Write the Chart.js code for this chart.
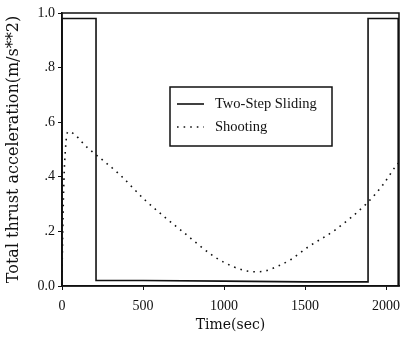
<!DOCTYPE html>
<html lang="en">
<head>
  <meta charset="UTF-8">
  <title>Total thrust acceleration</title>
  <script src="https://cdn.jsdelivr.net/npm/chart.js"></script>
  <style>
    body { margin: 0; padding: 0; background: #fff; }
    canvas { display: block; }
  </style>
</head>
<body>
  <canvas id="thrustChart" width="401" height="349"></canvas>
  <script>
    // data
    const slidingTime = [0, 0, 210, 210, 500, 1000, 1500, 1889, 1889, 2075, 2075];
    const slidingAccel = [0, 0.98, 0.98, 0.02, 0.02, 0.018, 0.015, 0.015, 0.98, 0.98, 0];
    const shootingTime = [0, 10, 25, 40, 160, 358, 512, 747, 944, 1060, 1142, 1200, 1253, 1330, 1407, 1519, 1685, 1883, 1980, 2056, 2075];
    const shootingAccel = [0.05, 0.35, 0.53, 0.565, 0.505, 0.407, 0.315, 0.198, 0.106, 0.07, 0.055, 0.052, 0.055, 0.072, 0.095, 0.143, 0.205, 0.304, 0.37, 0.436, 0.45];
    const xTicks = [0, 500, 1000, 1500, 2000];
    const yTicks = [0, 0.2, 0.4, 0.6, 0.8, 1];
    const yTickLabels = ['0.0', '.2', '.4', '.6', '.8', '1.0'];

    const SERIF = '"Liberation Serif", serif';
    const WIDE = '"DejaVu Serif", serif';
    const INK = '#111';

    // box round the plot + the legend box
    const framePlugin = {
      id: 'frame',
      afterDatasetsDraw(chart) {
        const { ctx, chartArea: a } = chart;
        ctx.save();
        ctx.strokeStyle = INK;
        ctx.lineWidth = 1.5;
        ctx.strokeRect(a.left, a.top, a.right - a.left, a.bottom - a.top);

        // legend
        const bx = 170, by = 87, bw = 162, bh = 59;
        ctx.fillStyle = '#fff';
        ctx.fillRect(bx, by, bw, bh);
        ctx.lineWidth = 1.5;
        ctx.strokeRect(bx, by, bw, bh);
        ctx.font = '14.5px ' + SERIF;
        ctx.fillStyle = INK;
        ctx.textBaseline = 'middle';
        chart.data.datasets.forEach((ds, i) => {
          const y = by + 17 + i * 23;
          ctx.beginPath();
          ctx.lineWidth = ds.borderWidth;
          ctx.setLineDash(ds.borderDash || []);
          ctx.moveTo(bx + 7, y);
          ctx.lineTo(bx + 34, y);
          ctx.stroke();
          ctx.setLineDash([]);
          ctx.fillText(ds.label, bx + 45, y);
        });
        ctx.restore();
      }
    };

    const toXY = (xs, ys) => xs.map((x, i) => ({ x: x, y: ys[i] }));

    new Chart(document.getElementById('thrustChart'), {
      type: 'line',
      data: {
        datasets: [
          {
            label: 'Two-Step Sliding',
            data: toXY(slidingTime, slidingAccel),
            borderColor: INK,
            borderWidth: 1.6,
            pointRadius: 0,
            tension: 0,
            fill: false
          },
          {
            label: 'Shooting',
            data: toXY(shootingTime, shootingAccel),
            borderColor: INK,
            borderWidth: 1.6,
            borderDash: [1.6, 5],
            pointRadius: 0,
            cubicInterpolationMode: 'monotone',
            fill: false
          }
        ]
      },
      options: {
        responsive: false,
        animation: false,
        devicePixelRatio: 1,
        layout: { padding: { top: 13, right: 2, left: 0, bottom: 0 } },
        plugins: { legend: { display: false }, tooltip: { enabled: false } },
        scales: {
          x: {
            type: 'linear',
            min: 0,
            max: 2080,
            afterBuildTicks: (s) => { s.ticks = xTicks.map(v => ({ value: v })); },
            afterFit: (s) => { s.height = 63; s.paddingRight = 0; s.paddingLeft = 0; },
            grid: { drawOnChartArea: false, drawTicks: true, tickLength: 4, color: INK },
            border: { display: true, color: INK, width: 1.5 },
            ticks: {
              color: INK,
              font: { family: SERIF, size: 14 },
              padding: 8,
              maxRotation: 0,
              callback: (v) => String(v)
            },
            title: { display: true, text: 'Time(sec)', color: INK, font: { family: WIDE, size: 14 }, padding: { top: 0, bottom: 15 } }
          },
          y: {
            min: 0,
            max: 1,
            afterBuildTicks: (s) => { s.ticks = yTicks.map(v => ({ value: v })); },
            afterFit: (s) => { s.width = 62; },
            grid: { drawOnChartArea: false, drawTicks: true, tickLength: 4, color: INK },
            border: { display: true, color: INK, width: 1.5 },
            ticks: {
              color: INK,
              font: { family: SERIF, size: 14 },
              padding: 3,
              callback: (v) => yTickLabels[yTicks.findIndex(t => Math.abs(t - v) < 1e-6)]
            },
            title: { display: true, text: 'Total thrust acceleration(m/s**2)', color: INK, font: { family: WIDE, size: 16 }, padding: { bottom: 0, top: 4 } }
          }
        }
      },
      plugins: [framePlugin]
    });
  </script>
</body>
</html>
